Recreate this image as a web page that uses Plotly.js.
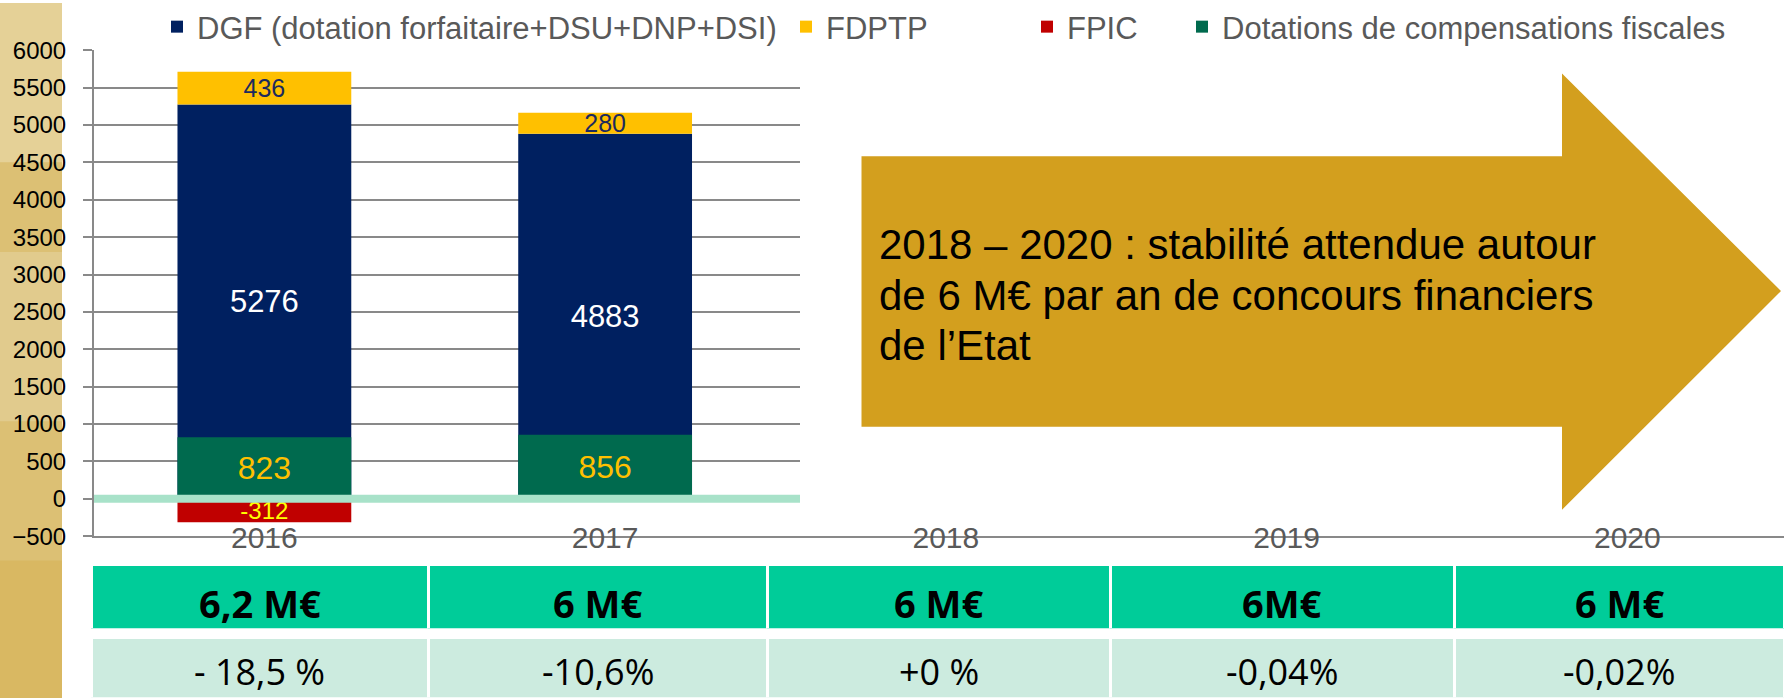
<!DOCTYPE html>
<html><head><meta charset="utf-8">
<script src="https://cdn.plot.ly/plotly-3.0.1.min.js"></script>
<style>html,body{margin:0;padding:0;background:#fff}</style>
</head><body><div id="chart" style="width:1784px;height:698px"></div>
<script>
// ---- data ----
const years = ['2016', '2017', '2018', '2019', '2020'];
const dgf = [5276, 4883, null, null, null];          // DGF (dotation forfaitaire+DSU+DNP+DSI)
const fdptp = [436, 280, null, null, null];          // FDPTP
const fpic = [-312, null, null, null, null];         // FPIC
const compensations = [823, 856, null, null, null];  // Dotations de compensations fiscales
const totals = ['6,2 M€', '6 M€', '6 M€', '6M€', '6 M€'];
const evolutions = ['- 18,5 %', '-10,6%', '+0 %', '-0,04%', '-0,02%'];
const seriesNames = ['DGF (dotation forfaitaire+DSU+DNP+DSI)', 'FDPTP', 'FPIC', 'Dotations de compensations fiscales'];
const arrowLines = ['2018 – 2020 : stabilité attendue autour', 'de 6 M€ par an de concours financiers', 'de l’Etat'];

// ---- geometry helpers ----
const W = 1784, H = 698;
const px = x => x / W;
const py = y => 1 - y / H;
const catWidth = 340.75;
const tableLeft = 91;
const colWidths = [337, 339, 343, 344, 330];
const colCenters = colWidths.map((w, i) => tableLeft + colWidths.slice(0, i).reduce((a, b) => a + b, 0) + w / 2);
const lbl = arr => arr.map(v => v == null ? '' : String(v));

const common = {
  type: 'bar', x: years, textposition: 'inside', insidetextanchor: 'middle',
  constraintext: 'none', textangle: 0, hoverinfo: 'skip', cliponaxis: false, texttemplate: '%{text}'
};

const traces = [
  Object.assign({}, common, {
    name: seriesNames[0], y: dgf, text: lbl(dgf),
    marker: {color: '#002060'}, textfont: {size: 31, color: '#ffffff'}, legend: 'legend'
  }),
  Object.assign({}, common, {
    name: seriesNames[1], y: fdptp, base: dgf, text: lbl(fdptp),
    marker: {color: '#FFC000'}, textfont: {size: 25, color: '#1c2a5e'}, legend: 'legend2'
  }),
  Object.assign({}, common, {
    name: seriesNames[2], y: fpic, text: lbl(fpic),
    marker: {color: '#C00000'}, textfont: {size: 24, color: '#FFFF00'}, legend: 'legend3'
  }),
  Object.assign({}, common, {
    name: seriesNames[3], y: compensations, text: lbl(compensations),
    marker: {color: '#006A4E'}, textfont: {size: 32, color: '#FFC000'}, legend: 'legend4'
  }),
  {
    type: 'table', domain: {x: [px(tableLeft), 1], y: [py(629), py(564)]},
    columnwidth: colWidths, hoverinfo: 'skip',
    header: {values: totals.map(() => ' '), height: 65, fill: {color: '#00CC99'},
      line: {color: '#ffffff', width: 3}, font: {size: 10}},
    cells: {values: []}
  },
  {
    type: 'table', domain: {x: [px(tableLeft), 1], y: [0, py(637)]},
    columnwidth: colWidths, hoverinfo: 'skip',
    header: {values: evolutions.map(() => ' '), height: 62, fill: {color: '#CCEBDF'},
      line: {color: '#ffffff', width: 3}, font: {size: 10}},
    cells: {values: []}
  }
];

function legendAt(xText) {
  return {orientation: 'h', x: px(xText - 39), xanchor: 'left', y: py(24), yanchor: 'middle',
    font: {size: 31, color: '#595959'}, bgcolor: 'rgba(0,0,0,0)', borderwidth: 0};
}

const arrowPath = 'M' + [
  [861.5, 154], [1562, 154], [1562, 70.7], [1781, 289.3], [1562, 509], [1562, 425.7], [861.5, 425.7]
].map(p => px(p[0]) + ',' + py(p[1])).join('L') + 'Z';

const tableFont = 'Open Sans, Noto Sans, sans-serif';
const annotations = [];
arrowLines.forEach((t, i) => annotations.push({
  xref: 'paper', yref: 'paper', x: px(877), y: py(243 + 50.5 * i), xanchor: 'left', yanchor: 'middle',
  align: 'left', showarrow: false, text: t, font: {size: 42, color: '#000000'}
}));
totals.forEach((t, i) => annotations.push({
  xref: 'paper', yref: 'paper', x: px(colCenters[i]), y: py(603), xanchor: 'center', yanchor: 'middle',
  showarrow: false, text: t, font: {family: tableFont, size: 38, color: '#000000', weight: 'bold'}
}));
evolutions.forEach((t, i) => annotations.push({
  xref: 'paper', yref: 'paper', x: px(colCenters[i]), y: py(671), xanchor: 'center', yanchor: 'middle',
  showarrow: false, text: t, font: {family: tableFont, size: 36, color: '#000000'}
}));

const layout = {
  width: W, height: H, margin: {l: 0, r: 0, t: 0, b: 0},
  paper_bgcolor: '#ffffff', plot_bgcolor: 'rgba(0,0,0,0)',
  font: {family: 'Liberation Sans, Arial, sans-serif'},
  barmode: 'overlay', bargap: 0.49,
  xaxis: {
    domain: [px(94), 1], type: 'category', range: [-0.5, -0.5 + (W - 94) / catWidth],
    showline: true, linecolor: '#898989', linewidth: 2, ticks: '', showgrid: false, zeroline: false,
    tickfont: {size: 30, color: '#595959'}, ticklabelstandoff: -26, fixedrange: true
  },
  yaxis: {
    domain: [py(535.5), py(47.5)], range: [-500, 6000], tick0: 0, dtick: 500,
    showgrid: true, gridcolor: '#898989', gridwidth: 2,
    showline: true, linecolor: '#898989', linewidth: 2,
    ticks: 'outside', ticklen: 9, tickwidth: 2, tickcolor: '#898989',
    tickfont: {size: 24, color: '#000000'}, ticklabelstandoff: 12, zeroline: false, fixedrange: true
  },
  showlegend: true,
  legend: legendAt(196), legend2: legendAt(825), legend3: legendAt(1066), legend4: legendAt(1221),
  shapes: [
    {type: 'rect', xref: 'paper', yref: 'paper', x0: 0, x1: px(62), y0: 0, y1: 1,
      fillcolor: '#DCC074', line: {width: 0}, layer: 'below'},
    {type: 'rect', xref: 'paper', yref: 'paper', x0: 0, x1: px(62), y0: py(160), y1: 1,
      fillcolor: 'rgba(238,225,185,0.5)', line: {width: 0}, layer: 'below'},
    {type: 'rect', xref: 'paper', yref: 'paper', x0: 0, x1: px(62), y0: py(420), y1: py(250),
      fillcolor: 'rgba(240,230,200,0.3)', line: {width: 0}, layer: 'below'},
    {type: 'rect', xref: 'paper', yref: 'paper', x0: 0, x1: px(62), y0: 0, y1: py(560),
      fillcolor: 'rgba(214,176,80,0.5)', line: {width: 0}, layer: 'below'},
    {type: 'rect', xref: 'paper', yref: 'y', x0: px(800), x1: 1, y0: -250, y1: 5750,
      fillcolor: '#ffffff', line: {width: 0}, layer: 'above'},
    {type: 'line', xref: 'paper', yref: 'y', x0: px(94), x1: px(800), y0: 0, y1: 0,
      line: {color: '#A8E2C9', width: 8}, layer: 'above'},
    {type: 'path', xref: 'paper', yref: 'paper', path: arrowPath,
      fillcolor: '#D39F1E', line: {width: 0}, layer: 'above'}
  ],
  annotations: annotations
};

Plotly.newPlot('chart', traces, layout, {displayModeBar: false, staticPlot: true});
</script>
</body></html>
